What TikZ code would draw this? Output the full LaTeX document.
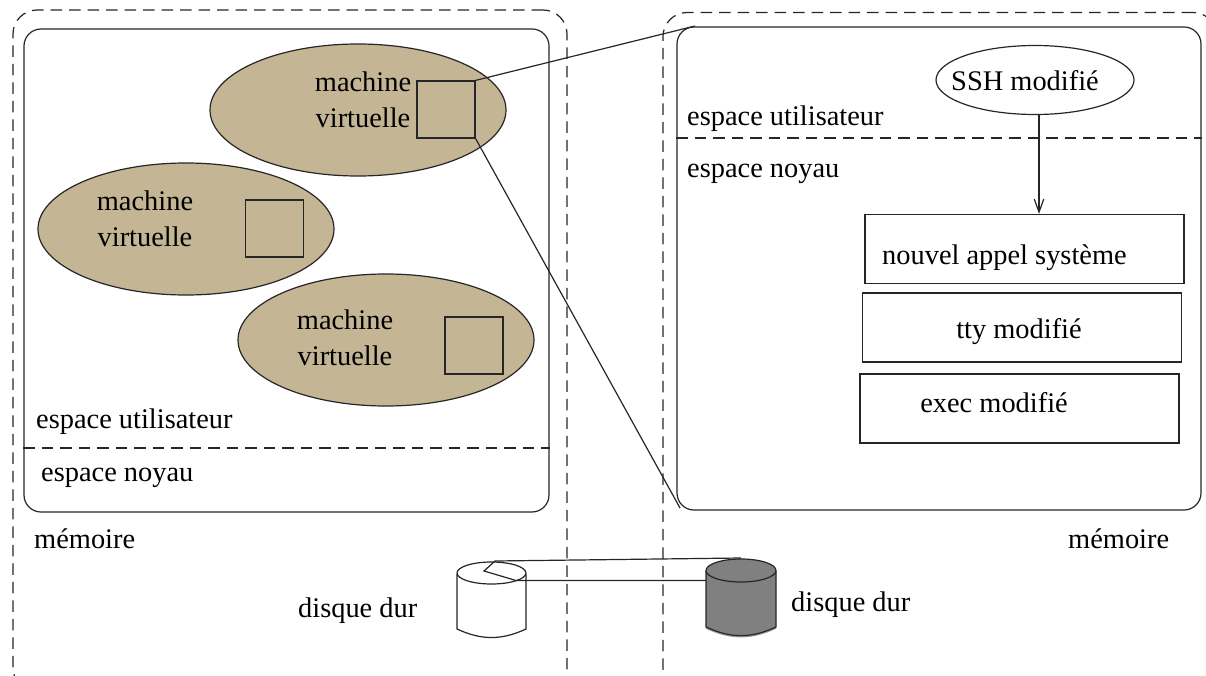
\documentclass[tikz,border=0pt]{standalone}
\usepackage{fontspec}
\setmainfont{Liberation Serif}
\tikzset{
  trait/.style={line width=1.2pt,black!85},
  pointille/.style={trait,dash pattern=on 11.5pt off 7pt},
  memoire/.style={pointille,draw,rounded corners=24pt,inner sep=0pt},
  espace/.style={trait,draw,rounded corners=17pt,inner sep=0pt,minimum width=525pt,minimum height=483pt},
  vm/.style={trait,draw,ellipse,fill=tan,inner sep=0pt,minimum width=296pt,minimum height=132pt},
  carre/.style={trait,draw,inner sep=0pt,minimum width=58pt,minimum height=57pt},
  module/.style={trait,draw,inner sep=0pt,minimum width=319pt,minimum height=69pt},
  texte/.style={inner sep=0pt,anchor=base,font=\fontsize{28.4}{34}\selectfont},
  gauche/.style={texte,anchor=base west}
}
\definecolor{tan}{HTML}{C4B595}
\usetikzlibrary{shapes.geometric,arrows.meta}
\begin{document}
\begin{tikzpicture}[x=1pt,y=-1pt]
\path[use as bounding box,clip] (0,0) rectangle (1206,676);
%%% la machine de gauche
\node[memoire,minimum width=554pt,minimum height=682pt] (memg) at (290,351) {};
\node[espace] (espg) at (286.5,270.5) {};
\draw[pointille] (espg.west |- 0,448) -- (espg.east |- 0,448);
\node[vm] (vma) at (358,110) {};
\node[vm] (vmb) at (186,229) {};
\node[vm] (vmc) at (386,340) {};
\node[carre] (sqa) at (446,109.5) {};
\node[carre] (sqb) at (274.5,228.5) {};
\node[carre] (sqc) at (474,345.5) {};
\node[texte] (vmatxta) at (363,92) {machine};
\node[texte] (vmatxtb) at (363,128) {virtuelle};
\node[texte] (vmbtxta) at (145,211) {machine};
\node[texte] (vmbtxtb) at (145,247) {virtuelle};
\node[texte] (vmctxta) at (345,329) {machine};
\node[texte] (vmctxtb) at (345,365) {virtuelle};
\node[gauche] (ug) at (36,428) {espace utilisateur};
\node[gauche] (ng) at (41,481) {espace noyau};
\node[gauche] (mg) at (34,548) {mémoire};
%%% la machine de droite
\node[memoire,minimum width=554pt,minimum height=680pt] (memd) at (940,352.5) {};
\node[espace,minimum width=524pt] (espd) at (939,268.5) {};
\draw[pointille] (espd.west |- 0,138) -- (espd.east |- 0,138);
\node[trait,draw,ellipse,inner sep=0pt,minimum width=198pt,minimum height=69pt] (ssh) at (1035,80) {};
\node[texte] (sshtxt) at (1025,91) {SSH modifié};
\node[module] (appel) at (1024.5,249) {};
\node[module] (tty) at (1022,327.5) {};
\node[module] (exec) at (1019.5,408.5) {};
\node[gauche] (appeltxt) at (882,264) {nouvel appel système};
\node[texte] (ttytxt) at (1019,338) {tty modifié};
\node[texte] (exectxt) at (994,412) {exec modifié};
\node[gauche] (ud) at (687,126) {espace utilisateur};
\node[gauche] (nd) at (687,178) {espace noyau};
\node[gauche] (md) at (1068,548) {mémoire};
\draw[trait,-{Straight Barb[length=13pt,width=10pt,angle'=40]}] (ssh.south -| 1039,0) -- (appel.north -| 1039,0);
%%% le zoom
\coordinate (zooma) at (695,26);
\coordinate (zoomb) at (680,508);
\draw[trait] (sqa.north east) -- (zooma);
\draw[trait] (sqa.south east) -- (zoomb);
%%% les disques
\draw[trait,fill=gray!50!black!0] (457,574) -- (457,629) to[out=-25,in=-155] (526,629) -- (526,574);
\draw[trait,fill=white] (491.5,573) ellipse (34.5pt and 11pt);
\draw[line width=1.5pt,black!40] (706,628) to[out=-25,in=-155] (776,628);
\draw[trait,fill=gray] (706,571) -- (706,627) to[out=-25,in=-155] (776,627) -- (776,571);
\draw[trait,fill=gray] (741,570.5) ellipse (35pt and 11.5pt);
\coordinate (wedgea) at (495,561);
\coordinate (wedgeb) at (484,571);
\coordinate (wedgec) at (516,580.5);
\coordinate (dda) at (741,558);
\coordinate (ddb) at (706,580.5);
\draw[trait] (dda) -- (wedgea) -- (wedgeb) -- (wedgec) -- (ddb);
\node[gauche] (dg) at (298,617) {disque dur};
\node[gauche] (dd) at (791,611) {disque dur};
\end{tikzpicture}
\end{document}
